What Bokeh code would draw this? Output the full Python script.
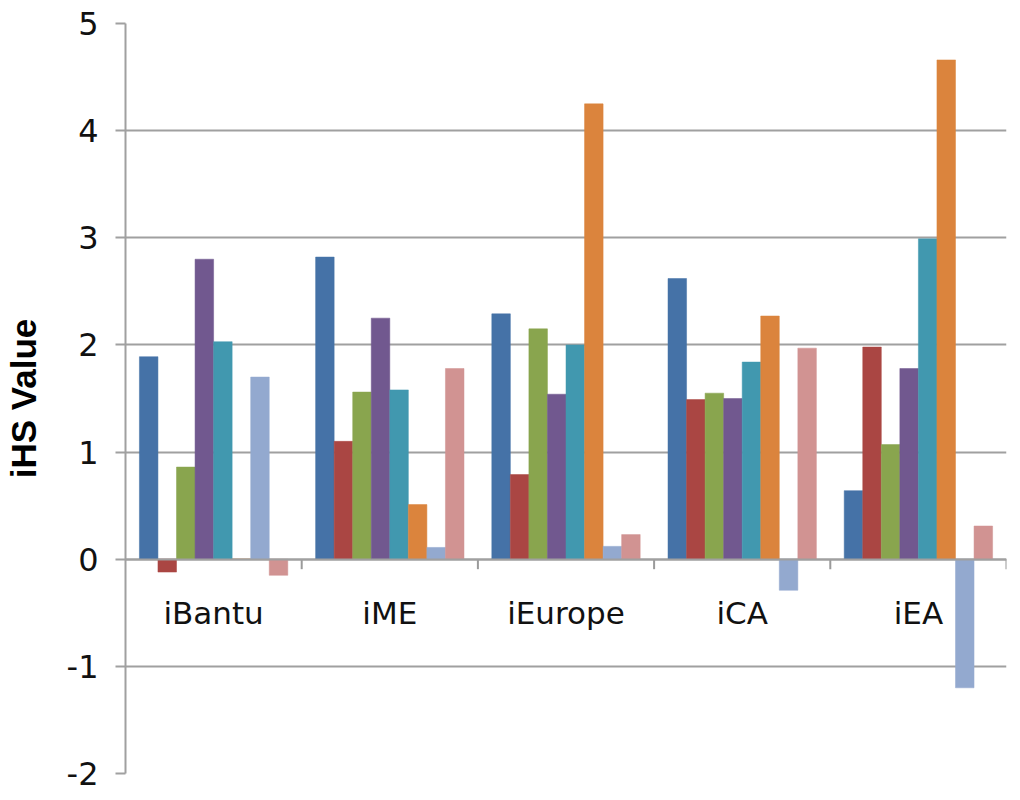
from bokeh.plotting import figure
from bokeh.models import Range1d, FactorRange, FixedTicker, ColumnDataSource
from bokeh.transform import dodge
from bokeh.embed import file_html
from bokeh.resources import INLINE

categories = ["iBantu", "iME", "iEurope", "iCA", "iEA"]
series_1 = [1.89, 2.82, 2.29, 2.62, 0.64]
series_2 = [-0.12, 1.10, 0.79, 1.49, 1.98]
series_3 = [0.86, 1.56, 2.15, 1.55, 1.07]
series_4 = [2.80, 2.25, 1.54, 1.50, 1.78]
series_5 = [2.03, 1.58, 2.00, 1.84, 2.99]
series_6 = [0.00, 0.51, 4.25, 2.27, 4.66]
series_7 = [1.70, 0.11, 0.12, -0.29, -1.20]
series_8 = [-0.15, 1.78, 0.23, 1.97, 0.31]
y_ticks = [-2, -1, 0, 1, 2, 3, 4, 5]
y_tick_labels = ["-2", "-1", "0", "1", "2", "3", "4", "5"]

series = [series_1, series_2, series_3, series_4, series_5, series_6, series_7, series_8]
colors = ["#4572A7", "#AA4643", "#89A54E", "#71588F", "#4198AF", "#DB843D", "#93A9CF", "#D19392"]

data = {"cat": categories}
for i, s in enumerate(series):
    data[f"s{i+1}"] = s
src = ColumnDataSource(data)

p = figure(x_range=FactorRange(factors=categories), y_range=Range1d(-2, 5),
           width=1012, height=792, output_backend="svg", toolbar_location=None,
           min_border_left=124, min_border_right=6, min_border_top=23, min_border_bottom=19)
p.outline_line_color = None
p.background_fill_color = "white"
p.border_fill_color = "white"

n = len(series)
w = 1.0 / (n + 1.5)
for i, c in enumerate(colors):
    p.vbar(x=dodge("cat", (i - (n - 1) / 2) * w, range=p.x_range), top=f"s{i+1}", bottom=0,
           width=w, source=src, fill_color=c, line_color=c, line_width=0.5)

# category boundary ticks on the zero line
p.segment(x0=dodge("cat", 0.5, range=p.x_range), y0=0,
          x1=dodge("cat", 0.5, range=p.x_range), y1=-0.093,
          source=src, line_color="#9A9A9A", line_width=2)

grid_col = "#A0A0A0"
p.xgrid.visible = False
p.ygrid.ticker = FixedTicker(ticks=y_ticks)
p.ygrid.grid_line_color = grid_col
p.ygrid.grid_line_width = 2

ya = p.yaxis[0]
ya.ticker = FixedTicker(ticks=y_ticks)
ya.major_label_overrides = {t: lab for t, lab in zip(y_ticks, y_tick_labels)}
ya.axis_line_color = grid_col
ya.axis_line_width = 2
ya.major_tick_line_color = grid_col
ya.major_tick_line_width = 2
ya.major_tick_out = 10
ya.major_tick_in = 0
ya.minor_tick_line_color = None
ya.major_label_standoff = 17
ya.major_label_text_font = "DejaVu Sans"
ya.major_label_text_font_size = "32px"
ya.major_label_text_color = "#111111"
ya.axis_label = "iHS Value"
ya.axis_label_text_font = "Liberation Sans"
ya.axis_label_text_font_style = "bold"
ya.axis_label_text_font_size = "35px"
ya.axis_label_text_color = "#000000"
ya.axis_label_standoff = 21

xa = p.xaxis[0]
xa.fixed_location = 0
xa.axis_line_color = grid_col
xa.axis_line_width = 2
xa.major_tick_line_color = None
xa.major_tick_out = 0
xa.major_tick_in = 0
xa.minor_tick_line_color = None
xa.major_label_standoff = 36
xa.major_label_text_font = "DejaVu Sans"
xa.major_label_text_font_size = "31px"
xa.major_label_text_color = "#111111"

open("out.html", "w").write(file_html(p, INLINE))
